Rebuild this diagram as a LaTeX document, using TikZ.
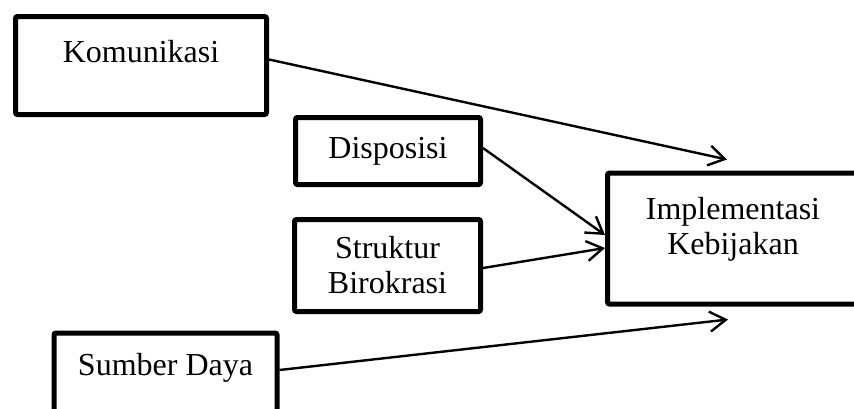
\documentclass[tikz,border=0pt]{standalone}
\usepackage{fontspec}
\setmainfont{Liberation Serif}
\usetikzlibrary{calc, positioning, arrows.meta}

\begin{document}
\begin{tikzpicture}[x=0.5pt, y=-0.5pt, >={Straight Barb[length=8pt, width=10pt]}, line width=1.2pt,
		font=\fontsize{16}{17.5}\selectfont]
		\tikzset{box/.style={draw, line width=2.5pt, rounded corners=1pt, align=center, inner sep=0pt}}
		\clip (0,0) rectangle (854,408);

		\node[box, minimum width=125.5pt, minimum height=49pt, label={[yshift=6.75pt]center:Komunikasi}] (Kom) at (141,65.5) {};
		\node[box, minimum width=92.5pt, minimum height=33.5pt] (Disp) at (388,151) {Disposisi};
		\node[box, minimum width=93pt, minimum height=46pt] (Str) at (387.5,265.5) {Struktur\\Birokrasi};
		\node[box, minimum width=111.5pt, minimum height=49pt, label={[yshift=7pt]center:Sumber Daya}] (Sum) at (165.5,382) {};
		\node[box, minimum width=125.5pt, minimum height=65.5pt, label={[yshift=4.75pt, align=center]center:Implementasi\\Kebijakan}] (Impl) at (733,238.5) {};

		\draw[->] ([yshift=3pt]Kom.east) -- ($(Impl.north)+(-6,-11)$);
		\draw[->] ([yshift=1.5pt]Disp.east) -- ([yshift=1.75pt]Impl.west);
		\draw[->] ([yshift=-1.25pt]Str.east) -- ([yshift=-4.75pt]Impl.west);
		\draw[->] ([yshift=6pt]Sum.east) -- ($(Impl.south)+(-5,13)$);

	\end{tikzpicture}
\end{document}
